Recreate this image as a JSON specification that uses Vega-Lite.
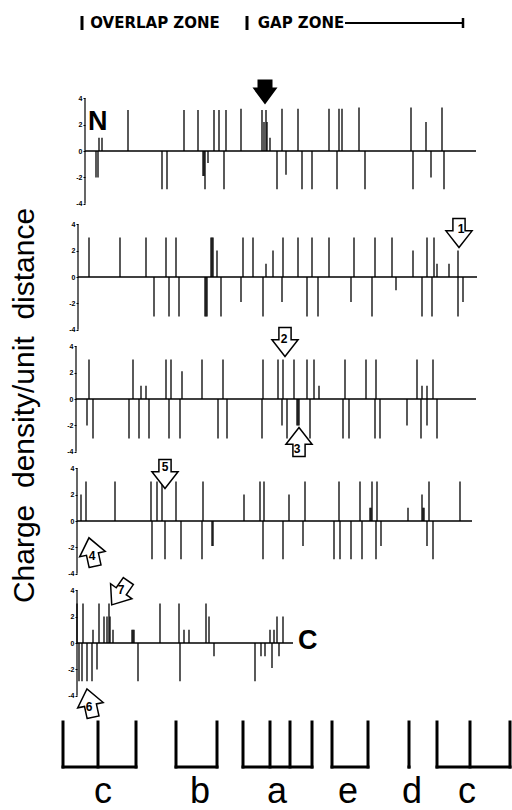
{
"$schema":"https://vega.github.io/schema/vega-lite/v6.json",
"padding":0,
"spacing":0,
"bounds":"flush",
"background":"white",
"config":{"view":{"stroke":null},"mark":{"color":"black"},"axisY":{"tickCount":5,"labelOverlap":false,"domain":false,"grid":false,"tickSize":2,"tickColor":"black","labelFontSize":7,"labelFontWeight":"bold","labelColor":"black","labelFont":"Liberation Sans","labelPadding":1,"labelFlush":false}},
"resolve":{"scale":{"x":"independent","y":"independent"}},
"datasets":{
"spikes":[
{"panel":1,"x":5.5,"v":1.0},{"panel":1,"x":6.25,"v":1.0},{"panel":1,"x":12.75,"v":3.1},{"panel":1,"x":26.75,"v":3.1},{"panel":1,"x":30.25,"v":3.1},{"panel":1,"x":34.25,"v":3.1},{"panel":1,"x":35.5,"v":3.1},{"panel":1,"x":37.25,"v":3.1},{"panel":1,"x":41,"v":3.2},{"panel":1,"x":46.25,"v":3.1},{"panel":1,"x":47.25,"v":3.1},{"panel":1,"x":46.75,"v":2.2},{"panel":1,"x":47.5,"v":2.2},{"panel":1,"x":48.25,"v":1.0},{"panel":1,"x":51.25,"v":3.2},{"panel":1,"x":55.25,"v":3.2},{"panel":1,"x":63,"v":3.2},{"panel":1,"x":65.5,"v":3.2},{"panel":1,"x":66.25,"v":3.2},{"panel":1,"x":70.5,"v":3.3},{"panel":1,"x":83.5,"v":3.3},{"panel":1,"x":87.25,"v":2.2},{"panel":1,"x":91.25,"v":3.3},
{"panel":1,"x":4.75,"v":-2.0},{"panel":1,"x":5.25,"v":-2.0},{"panel":1,"x":21.25,"v":-2.9},{"panel":1,"x":22.5,"v":-2.9},{"panel":1,"x":31.5,"v":-1.9},{"panel":1,"x":31.75,"v":-1.9},{"panel":1,"x":32,"v":-2.9},{"panel":1,"x":32.75,"v":-0.9},{"panel":1,"x":36.75,"v":-2.9},{"panel":1,"x":50,"v":-2.9},{"panel":1,"x":52.25,"v":-1.8},{"panel":1,"x":56.25,"v":-2.9},{"panel":1,"x":58.75,"v":-2.9},{"panel":1,"x":65,"v":-2.9},{"panel":1,"x":72,"v":-2.9},{"panel":1,"x":84,"v":-2.9},{"panel":1,"x":88.5,"v":-2.0},{"panel":1,"x":91.75,"v":-2.9},
{"panel":2,"x":3,"v":3.0},{"panel":2,"x":10.75,"v":3.0},{"panel":2,"x":17.25,"v":3.0},{"panel":2,"x":22.25,"v":3.0},{"panel":2,"x":24.75,"v":3.0},{"panel":2,"x":33.5,"v":3.0},{"panel":2,"x":33.75,"v":3.0},{"panel":2,"x":34,"v":3.0},{"panel":2,"x":35,"v":2.0},{"panel":2,"x":41.5,"v":3.0},{"panel":2,"x":44,"v":3.0},{"panel":2,"x":47.25,"v":1.0},{"panel":2,"x":49,"v":2.0},{"panel":2,"x":51.5,"v":3.0},{"panel":2,"x":55.25,"v":3.0},{"panel":2,"x":58.75,"v":3.0},{"panel":2,"x":63,"v":3.0},{"panel":2,"x":69.25,"v":3.0},{"panel":2,"x":74.5,"v":3.0},{"panel":2,"x":78.75,"v":3.0},{"panel":2,"x":84,"v":2.0},{"panel":2,"x":87.5,"v":3.0},{"panel":2,"x":89.25,"v":3.0},{"panel":2,"x":90,"v":1.0},{"panel":2,"x":93,"v":1.0},{"panel":2,"x":95.25,"v":2.0},
{"panel":2,"x":19.25,"v":-3.0},{"panel":2,"x":23,"v":-3.0},{"panel":2,"x":25.5,"v":-3.0},{"panel":2,"x":32,"v":-3.0},{"panel":2,"x":32.25,"v":-3.0},{"panel":2,"x":32.5,"v":-3.0},{"panel":2,"x":36,"v":-3.0},{"panel":2,"x":41,"v":-1.9},{"panel":2,"x":46.5,"v":-3.0},{"panel":2,"x":51.25,"v":-1.9},{"panel":2,"x":57.5,"v":-3.0},{"panel":2,"x":60.25,"v":-3.0},{"panel":2,"x":68.5,"v":-1.9},{"panel":2,"x":73.75,"v":-3.0},{"panel":2,"x":79.75,"v":-1.0},{"panel":2,"x":86.25,"v":-3.0},{"panel":2,"x":88.75,"v":-3.0},{"panel":2,"x":95.25,"v":-3.0},{"panel":2,"x":96.5,"v":-1.9},
{"panel":3,"x":3,"v":3.0},{"panel":3,"x":14,"v":3.0},{"panel":3,"x":16,"v":1.0},{"panel":3,"x":17.25,"v":1.0},{"panel":3,"x":22.25,"v":3.0},{"panel":3,"x":23.5,"v":3.0},{"panel":3,"x":26.25,"v":2.1},{"panel":3,"x":31.25,"v":3.0},{"panel":3,"x":36.5,"v":3.0},{"panel":3,"x":46.5,"v":3.0},{"panel":3,"x":50.25,"v":3.0},{"panel":3,"x":51.5,"v":3.0},{"panel":3,"x":54.25,"v":3.0},{"panel":3,"x":57.5,"v":3.0},{"panel":3,"x":59.25,"v":3.0},{"panel":3,"x":60.5,"v":1.0},{"panel":3,"x":67,"v":3.0},{"panel":3,"x":72.25,"v":3.0},{"panel":3,"x":74.75,"v":3.0},{"panel":3,"x":85,"v":3.0},{"panel":3,"x":86.25,"v":1.0},{"panel":3,"x":87.5,"v":1.0},{"panel":3,"x":89,"v":3.0},
{"panel":3,"x":2.5,"v":-2.0},{"panel":3,"x":4,"v":-3.0},{"panel":3,"x":13,"v":-3.0},{"panel":3,"x":15.5,"v":-3.0},{"panel":3,"x":18,"v":-3.0},{"panel":3,"x":23,"v":-3.0},{"panel":3,"x":25.75,"v":-3.0},{"panel":3,"x":35.25,"v":-3.0},{"panel":3,"x":37.5,"v":-3.0},{"panel":3,"x":46.25,"v":-3.0},{"panel":3,"x":51.25,"v":-2.0},{"panel":3,"x":52.5,"v":-3.0},{"panel":3,"x":55,"v":-2.0},{"panel":3,"x":55.25,"v":-2.0},{"panel":3,"x":55.5,"v":-2.0},{"panel":3,"x":58.25,"v":-3.0},{"panel":3,"x":66.5,"v":-3.0},{"panel":3,"x":68,"v":-3.0},{"panel":3,"x":74.5,"v":-3.0},{"panel":3,"x":75.75,"v":-3.0},{"panel":3,"x":82.5,"v":-2.0},{"panel":3,"x":86,"v":-3.0},{"panel":3,"x":87.5,"v":-2.0},{"panel":3,"x":90,"v":-3.0},
{"panel":4,"x":1,"v":2.0},{"panel":4,"x":2.25,"v":3.0},{"panel":4,"x":9.5,"v":3.0},{"panel":4,"x":18.5,"v":3.0},{"panel":4,"x":20,"v":3.0},{"panel":4,"x":21.25,"v":3.0},{"panel":4,"x":24.75,"v":3.0},{"panel":4,"x":31.5,"v":3.0},{"panel":4,"x":41.75,"v":2.0},{"panel":4,"x":45.75,"v":3.0},{"panel":4,"x":46.75,"v":3.0},{"panel":4,"x":53,"v":2.0},{"panel":4,"x":57,"v":3.0},{"panel":4,"x":65.5,"v":3.0},{"panel":4,"x":70.75,"v":3.0},{"panel":4,"x":73.25,"v":1.0},{"panel":4,"x":73.5,"v":1.0},{"panel":4,"x":73.75,"v":3.0},{"panel":4,"x":75,"v":3.0},{"panel":4,"x":82.75,"v":1.0},{"panel":4,"x":86.25,"v":2.0},{"panel":4,"x":86.5,"v":1.0},{"panel":4,"x":86.75,"v":1.0},{"panel":4,"x":88,"v":3.0},{"panel":4,"x":95.75,"v":3.0},
{"panel":4,"x":18.75,"v":-2.9},{"panel":4,"x":22,"v":-2.9},{"panel":4,"x":26,"v":-2.9},{"panel":4,"x":31.25,"v":-2.9},{"panel":4,"x":33.75,"v":-1.9},{"panel":4,"x":34,"v":-1.9},{"panel":4,"x":46.5,"v":-2.9},{"panel":4,"x":51.5,"v":-2.9},{"panel":4,"x":56.5,"v":-1.9},{"panel":4,"x":64.25,"v":-2.9},{"panel":4,"x":65.75,"v":-2.9},{"panel":4,"x":68.5,"v":-2.9},{"panel":4,"x":71.25,"v":-2.9},{"panel":4,"x":74.75,"v":-2.9},{"panel":4,"x":76,"v":-1.9},{"panel":4,"x":87.5,"v":-1.9},{"panel":4,"x":89,"v":-2.9},
{"panel":5,"x":0,"v":3.0},{"panel":5,"x":1.5,"v":3.0},{"panel":5,"x":4,"v":1.0},{"panel":5,"x":5.5,"v":3.0},{"panel":5,"x":6.75,"v":2.0},{"panel":5,"x":7.5,"v":2.0},{"panel":5,"x":8,"v":3.0},{"panel":5,"x":8.25,"v":2.0},{"panel":5,"x":9,"v":1.0},{"panel":5,"x":13.75,"v":1.0},{"panel":5,"x":14,"v":1.0},{"panel":5,"x":14.25,"v":1.0},{"panel":5,"x":20.75,"v":3.0},{"panel":5,"x":25.5,"v":3.0},{"panel":5,"x":26.75,"v":1.0},{"panel":5,"x":28,"v":1.0},{"panel":5,"x":32.25,"v":3.0},{"panel":5,"x":33,"v":2.0},{"panel":5,"x":48.25,"v":1.0},{"panel":5,"x":49.25,"v":1.0},{"panel":5,"x":50,"v":2.0},{"panel":5,"x":51.5,"v":2.0},
{"panel":5,"x":0.5,"v":-2.9},{"panel":5,"x":1.25,"v":-2.9},{"panel":5,"x":2.5,"v":-2.9},{"panel":5,"x":3.75,"v":-2.9},{"panel":5,"x":5,"v":-2.0},{"panel":5,"x":15.25,"v":-2.9},{"panel":5,"x":25.75,"v":-2.9},{"panel":5,"x":34.25,"v":-1.0},{"panel":5,"x":44.5,"v":-2.9},{"panel":5,"x":46,"v":-1.0},{"panel":5,"x":47,"v":-1.0},{"panel":5,"x":48.75,"v":-1.9},{"panel":5,"x":50.5,"v":-1.0}
],
"baselines":[
{"panel":1,"start":2,"end":99.75,"spine":2},
{"panel":2,"start":0.25,"end":100,"spine":0.25},
{"panel":3,"start":-0.25,"end":99.75,"spine":-0.25},
{"panel":4,"start":0,"end":98.75,"spine":0},
{"panel":5,"start":0,"end":54,"spine":0}
],
"labels":[
{"panel":1,"x":2.75,"v":2.2,"label":"N"},
{"panel":5,"x":55.25,"v":0.15,"label":"C"}
],
"pointer":[{"panel":1,"x":47,"v":4.47}],
"arrows":[
{"panel":2,"x":95.5,"v":3.33,"dir":"down","num":"1","tx":96,"tv":3.64},
{"panel":3,"x":52,"v":4.32,"dir":"down","num":"2","tx":51.75,"tv":4.55},
{"panel":3,"x":55.5,"v":-3.26,"dir":"up","num":"3","tx":55,"tv":-3.79},
{"panel":4,"x":3.75,"v":-2.35,"dir":"up-left","num":"4","tx":3.75,"tv":-2.65},
{"panel":4,"x":22,"v":3.56,"dir":"down","num":"5","tx":22,"tv":4.09},
{"panel":5,"x":3.25,"v":-4.55,"dir":"up-left","num":"6","tx":3,"tv":-4.85},
{"panel":5,"x":10.75,"v":3.79,"dir":"down-left","num":"7","tx":11,"tv":4.0}
],
"zones":[
{"zone":"OVERLAP ZONE","start":1.25,"end":42.5,"mid":19.5},
{"zone":"GAP ZONE","start":42.5,"end":96.5,"mid":56,"line":67}
],
"bands":[
{"label":"c","left":-3.5,"right":14.75,"mid":6.5},
{"label":"b","left":24.75,"right":35,"mid":30.75},
{"label":"a","left":41.5,"right":58.75,"mid":50},
{"label":"e","left":63.75,"right":72.75,"mid":67.75},
{"label":"d","left":83,"right":83,"mid":83.75},
{"label":"c","left":90,"right":108.25,"mid":97.5}
],
"posts":[
{"label":"c","x":-3.5},{"label":"c","x":5.25},{"label":"c","x":14.75},
{"label":"b","x":24.75},{"label":"b","x":35},
{"label":"a","x":41.5},{"label":"a","x":48.25},{"label":"a","x":53.25},{"label":"a","x":58.75},
{"label":"e","x":63.75},{"label":"e","x":72.75},
{"label":"d","x":83},
{"label":"c","x":90},{"label":"c","x":98.25},{"label":"c","x":108.25}
]
},
"vconcat":[
{
"width":512,"height":90,
"layer":[
{"data":{"name":"zones"},"mark":{"type":"text","font":"DejaVu Sans","fontWeight":"bold","fontSize":15,"align":"center","baseline":"alphabetic","color":"black"},
"encoding":{"x":{"field":"mid","type":"quantitative","scale":{"domain":[-19.25,108.75],"nice":false,"zero":false},"axis":null},"y":{"datum":62,"scale":{"domain":[0,90],"nice":false,"zero":false},"axis":null},"text":{"field":"zone"}}},
{"data":{"name":"zones"},"mark":{"type":"rule","strokeWidth":3,"color":"black"},
"encoding":{"x":{"field":"start","type":"quantitative","scale":{"domain":[-19.25,108.75],"nice":false,"zero":false},"axis":null},"y":{"datum":60,"scale":{"domain":[0,90],"nice":false,"zero":false},"axis":null},"y2":{"datum":74}}},
{"data":{"name":"zones"},"transform":[{"filter":"datum.line != null"}],"mark":{"type":"rule","strokeWidth":2,"color":"black"},
"encoding":{"x":{"field":"line","type":"quantitative","scale":{"domain":[-19.25,108.75],"nice":false,"zero":false},"axis":null},"x2":{"field":"end"},"y":{"datum":67,"scale":{"domain":[0,90],"nice":false,"zero":false},"axis":null}}},
{"data":{"name":"zones"},"transform":[{"filter":"datum.line != null"}],"mark":{"type":"rule","strokeWidth":2.5,"color":"black"},
"encoding":{"x":{"field":"end","type":"quantitative","scale":{"domain":[-19.25,108.75],"nice":false,"zero":false},"axis":null},"y":{"datum":62,"scale":{"domain":[0,90],"nice":false,"zero":false},"axis":null},"y2":{"datum":72}}}
]
},
{
"width":512,"height":126,
"layer":[
{"data":{"name":"spikes"},"transform":[{"filter":"datum.panel == 1"}],"mark":{"type":"rule","strokeWidth":1.3,"color":"black"},"encoding":{"x":{"field":"x","type":"quantitative","scale":{"domain":[-19.25,108.75],"nice":false,"zero":false},"axis":null},"y":{"field":"v","type":"quantitative","scale":{"domain":[-4.924,4.621],"nice":false,"zero":false},"axis":{"offset":-85,"values":[-4,-2,0,2,4],"labelExpr":"'' + datum.value","title":null}},"y2":{"datum":0}}},
{"data":{"name":"baselines"},"transform":[{"filter":"datum.panel == 1"}],"mark":{"type":"rule","strokeWidth":1.5,"color":"black"},"encoding":{"x":{"field":"start","type":"quantitative","scale":{"domain":[-19.25,108.75],"nice":false,"zero":false}},"x2":{"field":"end"},"y":{"datum":0,"scale":{"domain":[-4.924,4.621],"nice":false,"zero":false}}}},
{"data":{"name":"baselines"},"transform":[{"filter":"datum.panel == 1"}],"mark":{"type":"rule","strokeWidth":1.2,"color":"black"},"encoding":{"x":{"field":"spine","type":"quantitative","scale":{"domain":[-19.25,108.75],"nice":false,"zero":false}},"y":{"datum":-4,"scale":{"domain":[-4.924,4.621],"nice":false,"zero":false}},"y2":{"datum":4}}},
{"data":{"name":"labels"},"transform":[{"filter":"datum.panel == 1"}],"mark":{"type":"text","font":"Liberation Sans","fontWeight":"bold","fontSize":27,"align":"left","baseline":"middle","color":"black"},"encoding":{"x":{"field":"x","type":"quantitative","scale":{"domain":[-19.25,108.75],"nice":false,"zero":false}},"y":{"field":"v","type":"quantitative","scale":{"domain":[-4.924,4.621],"nice":false,"zero":false}},"text":{"field":"label"}}},
{"data":{"name":"pointer"},"mark":{"type":"point","filled":true,"color":"black","opacity":1,"size":625,"shape":"M-0.6,-1L0.6,-1L0.6,-0.35L1,-0.35L0,1L-1,-0.35L-0.6,-0.35Z"},"encoding":{"x":{"field":"x","type":"quantitative","scale":{"domain":[-19.25,108.75],"nice":false,"zero":false}},"y":{"field":"v","type":"quantitative","scale":{"domain":[-4.924,4.621],"nice":false,"zero":false}}}}
]
},
{
"width":512,"height":122,
"layer":[
{"data":{"name":"spikes"},"transform":[{"filter":"datum.panel == 2"}],"mark":{"type":"rule","strokeWidth":1.3,"color":"black"},"encoding":{"x":{"field":"x","type":"quantitative","scale":{"domain":[-19.25,108.75],"nice":false,"zero":false},"axis":null},"y":{"field":"v","type":"quantitative","scale":{"domain":[-4.621,4.621],"nice":false,"zero":false},"axis":{"offset":-78,"values":[-4,-2,0,2,4],"labelExpr":"'' + datum.value","title":null}},"y2":{"datum":0}}},
{"data":{"name":"baselines"},"transform":[{"filter":"datum.panel == 2"}],"mark":{"type":"rule","strokeWidth":1.5,"color":"black"},"encoding":{"x":{"field":"start","type":"quantitative","scale":{"domain":[-19.25,108.75],"nice":false,"zero":false}},"x2":{"field":"end"},"y":{"datum":0,"scale":{"domain":[-4.621,4.621],"nice":false,"zero":false}}}},
{"data":{"name":"baselines"},"transform":[{"filter":"datum.panel == 2"}],"mark":{"type":"rule","strokeWidth":1.2,"color":"black"},"encoding":{"x":{"field":"spine","type":"quantitative","scale":{"domain":[-19.25,108.75],"nice":false,"zero":false}},"y":{"datum":-4,"scale":{"domain":[-4.621,4.621],"nice":false,"zero":false}},"y2":{"datum":4}}},
{"data":{"name":"arrows"},"transform":[{"filter":"datum.panel == 2"}],"mark":{"type":"point","filled":true,"fill":"white","stroke":"black","strokeWidth":1.5,"opacity":1,"size":841},"encoding":{"x":{"field":"x","type":"quantitative","scale":{"domain":[-19.25,108.75],"nice":false,"zero":false}},"y":{"field":"v","type":"quantitative","scale":{"domain":[-4.621,4.621],"nice":false,"zero":false}},"shape":{"field":"dir","type":"nominal","legend":null,"scale":{"domain":["down","up","up-left","down-left"],"range":["M-0.42,-1L0.42,-1L0.42,-0.15L0.9,-0.15L0,1L-0.9,-0.15L-0.42,-0.15Z","M-0.42,1L0.42,1L0.42,0.15L0.9,0.15L0,-1L-0.9,0.15L-0.42,0.15Z","M-0.2,1.06L0.62,0.89L0.44,0.06L0.91,-0.04L-0.21,-0.98L-0.85,0.33L-0.38,0.23Z","M0.23,-1.06L0.92,-0.58L0.43,0.12L0.82,0.39L-0.57,0.82L-0.65,-0.64L-0.26,-0.36Z"]}}}},
{"data":{"name":"arrows"},"transform":[{"filter":"datum.panel == 2"}],"mark":{"type":"text","font":"Liberation Sans","fontWeight":"bold","fontSize":12,"align":"center","baseline":"middle","color":"black"},"encoding":{"x":{"field":"tx","type":"quantitative","scale":{"domain":[-19.25,108.75],"nice":false,"zero":false}},"y":{"field":"tv","type":"quantitative","scale":{"domain":[-4.621,4.621],"nice":false,"zero":false}},"text":{"field":"num"}}}
]
},
{
"width":512,"height":122,
"layer":[
{"data":{"name":"spikes"},"transform":[{"filter":"datum.panel == 3"}],"mark":{"type":"rule","strokeWidth":1.3,"color":"black"},"encoding":{"x":{"field":"x","type":"quantitative","scale":{"domain":[-19.25,108.75],"nice":false,"zero":false},"axis":null},"y":{"field":"v","type":"quantitative","scale":{"domain":[-4.621,4.621],"nice":false,"zero":false},"axis":{"offset":-76,"values":[-4,-2,0,2,4],"labelExpr":"'' + datum.value","title":"Charge\u00a0\u00a0density/unit\u00a0\u00a0distance","titleFont":"Liberation Sans","titleFontSize":30,"titleFontWeight":"normal","titleColor":"black","titleX":-43,"titleY":67,"titleAngle":270,"titleAlign":"center","titleBaseline":"alphabetic"}},"y2":{"datum":0}}},
{"data":{"name":"baselines"},"transform":[{"filter":"datum.panel == 3"}],"mark":{"type":"rule","strokeWidth":1.5,"color":"black"},"encoding":{"x":{"field":"start","type":"quantitative","scale":{"domain":[-19.25,108.75],"nice":false,"zero":false}},"x2":{"field":"end"},"y":{"datum":0,"scale":{"domain":[-4.621,4.621],"nice":false,"zero":false}}}},
{"data":{"name":"baselines"},"transform":[{"filter":"datum.panel == 3"}],"mark":{"type":"rule","strokeWidth":1.2,"color":"black"},"encoding":{"x":{"field":"spine","type":"quantitative","scale":{"domain":[-19.25,108.75],"nice":false,"zero":false}},"y":{"datum":-4,"scale":{"domain":[-4.621,4.621],"nice":false,"zero":false}},"y2":{"datum":4}}},
{"data":{"name":"arrows"},"transform":[{"filter":"datum.panel == 3"}],"mark":{"type":"point","filled":true,"fill":"white","stroke":"black","strokeWidth":1.5,"opacity":1,"size":841},"encoding":{"x":{"field":"x","type":"quantitative","scale":{"domain":[-19.25,108.75],"nice":false,"zero":false}},"y":{"field":"v","type":"quantitative","scale":{"domain":[-4.621,4.621],"nice":false,"zero":false}},"shape":{"field":"dir","type":"nominal","legend":null,"scale":{"domain":["down","up","up-left","down-left"],"range":["M-0.42,-1L0.42,-1L0.42,-0.15L0.9,-0.15L0,1L-0.9,-0.15L-0.42,-0.15Z","M-0.42,1L0.42,1L0.42,0.15L0.9,0.15L0,-1L-0.9,0.15L-0.42,0.15Z","M-0.2,1.06L0.62,0.89L0.44,0.06L0.91,-0.04L-0.21,-0.98L-0.85,0.33L-0.38,0.23Z","M0.23,-1.06L0.92,-0.58L0.43,0.12L0.82,0.39L-0.57,0.82L-0.65,-0.64L-0.26,-0.36Z"]}}}},
{"data":{"name":"arrows"},"transform":[{"filter":"datum.panel == 3"}],"mark":{"type":"text","font":"Liberation Sans","fontWeight":"bold","fontSize":12,"align":"center","baseline":"middle","color":"black"},"encoding":{"x":{"field":"tx","type":"quantitative","scale":{"domain":[-19.25,108.75],"nice":false,"zero":false}},"y":{"field":"tv","type":"quantitative","scale":{"domain":[-4.621,4.621],"nice":false,"zero":false}},"text":{"field":"num"}}}
]
},
{
"width":512,"height":122,
"layer":[
{"data":{"name":"spikes"},"transform":[{"filter":"datum.panel == 4"}],"mark":{"type":"rule","strokeWidth":1.3,"color":"black"},"encoding":{"x":{"field":"x","type":"quantitative","scale":{"domain":[-19.25,108.75],"nice":false,"zero":false},"axis":null},"y":{"field":"v","type":"quantitative","scale":{"domain":[-4.621,4.621],"nice":false,"zero":false},"axis":{"offset":-77,"values":[-4,-2,0,2,4],"labelExpr":"'' + datum.value","title":null}},"y2":{"datum":0}}},
{"data":{"name":"baselines"},"transform":[{"filter":"datum.panel == 4"}],"mark":{"type":"rule","strokeWidth":1.5,"color":"black"},"encoding":{"x":{"field":"start","type":"quantitative","scale":{"domain":[-19.25,108.75],"nice":false,"zero":false}},"x2":{"field":"end"},"y":{"datum":0,"scale":{"domain":[-4.621,4.621],"nice":false,"zero":false}}}},
{"data":{"name":"baselines"},"transform":[{"filter":"datum.panel == 4"}],"mark":{"type":"rule","strokeWidth":1.2,"color":"black"},"encoding":{"x":{"field":"spine","type":"quantitative","scale":{"domain":[-19.25,108.75],"nice":false,"zero":false}},"y":{"datum":-4,"scale":{"domain":[-4.621,4.621],"nice":false,"zero":false}},"y2":{"datum":4}}},
{"data":{"name":"arrows"},"transform":[{"filter":"datum.panel == 4"}],"mark":{"type":"point","filled":true,"fill":"white","stroke":"black","strokeWidth":1.5,"opacity":1,"size":841},"encoding":{"x":{"field":"x","type":"quantitative","scale":{"domain":[-19.25,108.75],"nice":false,"zero":false}},"y":{"field":"v","type":"quantitative","scale":{"domain":[-4.621,4.621],"nice":false,"zero":false}},"shape":{"field":"dir","type":"nominal","legend":null,"scale":{"domain":["down","up","up-left","down-left"],"range":["M-0.42,-1L0.42,-1L0.42,-0.15L0.9,-0.15L0,1L-0.9,-0.15L-0.42,-0.15Z","M-0.42,1L0.42,1L0.42,0.15L0.9,0.15L0,-1L-0.9,0.15L-0.42,0.15Z","M-0.2,1.06L0.62,0.89L0.44,0.06L0.91,-0.04L-0.21,-0.98L-0.85,0.33L-0.38,0.23Z","M0.23,-1.06L0.92,-0.58L0.43,0.12L0.82,0.39L-0.57,0.82L-0.65,-0.64L-0.26,-0.36Z"]}}}},
{"data":{"name":"arrows"},"transform":[{"filter":"datum.panel == 4"}],"mark":{"type":"text","font":"Liberation Sans","fontWeight":"bold","fontSize":12,"align":"center","baseline":"middle","color":"black"},"encoding":{"x":{"field":"tx","type":"quantitative","scale":{"domain":[-19.25,108.75],"nice":false,"zero":false}},"y":{"field":"tv","type":"quantitative","scale":{"domain":[-4.621,4.621],"nice":false,"zero":false}},"text":{"field":"num"}}}
]
},
{
"width":512,"height":122,
"layer":[
{"data":{"name":"spikes"},"transform":[{"filter":"datum.panel == 5"}],"mark":{"type":"rule","strokeWidth":1.3,"color":"black"},"encoding":{"x":{"field":"x","type":"quantitative","scale":{"domain":[-19.25,108.75],"nice":false,"zero":false},"axis":null},"y":{"field":"v","type":"quantitative","scale":{"domain":[-4.621,4.621],"nice":false,"zero":false},"axis":{"offset":-77,"values":[-4,-2,0,2,4],"labelExpr":"'' + datum.value","title":null}},"y2":{"datum":0}}},
{"data":{"name":"baselines"},"transform":[{"filter":"datum.panel == 5"}],"mark":{"type":"rule","strokeWidth":1.5,"color":"black"},"encoding":{"x":{"field":"start","type":"quantitative","scale":{"domain":[-19.25,108.75],"nice":false,"zero":false}},"x2":{"field":"end"},"y":{"datum":0,"scale":{"domain":[-4.621,4.621],"nice":false,"zero":false}}}},
{"data":{"name":"baselines"},"transform":[{"filter":"datum.panel == 5"}],"mark":{"type":"rule","strokeWidth":1.2,"color":"black"},"encoding":{"x":{"field":"spine","type":"quantitative","scale":{"domain":[-19.25,108.75],"nice":false,"zero":false}},"y":{"datum":-4,"scale":{"domain":[-4.621,4.621],"nice":false,"zero":false}},"y2":{"datum":4}}},
{"data":{"name":"labels"},"transform":[{"filter":"datum.panel == 5"}],"mark":{"type":"text","font":"Liberation Sans","fontWeight":"bold","fontSize":27,"align":"left","baseline":"middle","color":"black"},"encoding":{"x":{"field":"x","type":"quantitative","scale":{"domain":[-19.25,108.75],"nice":false,"zero":false}},"y":{"field":"v","type":"quantitative","scale":{"domain":[-4.621,4.621],"nice":false,"zero":false}},"text":{"field":"label"}}},
{"data":{"name":"arrows"},"transform":[{"filter":"datum.panel == 5"}],"mark":{"type":"point","filled":true,"fill":"white","stroke":"black","strokeWidth":1.5,"opacity":1,"size":841},"encoding":{"x":{"field":"x","type":"quantitative","scale":{"domain":[-19.25,108.75],"nice":false,"zero":false}},"y":{"field":"v","type":"quantitative","scale":{"domain":[-4.621,4.621],"nice":false,"zero":false}},"shape":{"field":"dir","type":"nominal","legend":null,"scale":{"domain":["down","up","up-left","down-left"],"range":["M-0.42,-1L0.42,-1L0.42,-0.15L0.9,-0.15L0,1L-0.9,-0.15L-0.42,-0.15Z","M-0.42,1L0.42,1L0.42,0.15L0.9,0.15L0,-1L-0.9,0.15L-0.42,0.15Z","M-0.2,1.06L0.62,0.89L0.44,0.06L0.91,-0.04L-0.21,-0.98L-0.85,0.33L-0.38,0.23Z","M0.23,-1.06L0.92,-0.58L0.43,0.12L0.82,0.39L-0.57,0.82L-0.65,-0.64L-0.26,-0.36Z"]}}}},
{"data":{"name":"arrows"},"transform":[{"filter":"datum.panel == 5"}],"mark":{"type":"text","font":"Liberation Sans","fontWeight":"bold","fontSize":12,"align":"center","baseline":"middle","color":"black"},"encoding":{"x":{"field":"tx","type":"quantitative","scale":{"domain":[-19.25,108.75],"nice":false,"zero":false}},"y":{"field":"tv","type":"quantitative","scale":{"domain":[-4.621,4.621],"nice":false,"zero":false}},"text":{"field":"num"}}}
]
},
{
"width":512,"height":106,
"layer":[
{"data":{"name":"posts"},"mark":{"type":"rule","strokeWidth":3,"strokeCap":"square","color":"black"},
"encoding":{"x":{"field":"x","type":"quantitative","scale":{"domain":[-19.25,108.75],"nice":false,"zero":false},"axis":null},"y":{"datum":43,"scale":{"domain":[0,106],"nice":false,"zero":false},"axis":null},"y2":{"datum":88}}},
{"data":{"name":"bands"},"mark":{"type":"rule","strokeWidth":3,"strokeCap":"square","color":"black"},
"encoding":{"x":{"field":"left","type":"quantitative","scale":{"domain":[-19.25,108.75],"nice":false,"zero":false},"axis":null},"x2":{"field":"right"},"y":{"datum":43,"scale":{"domain":[0,106],"nice":false,"zero":false},"axis":null}}},
{"data":{"name":"bands"},"mark":{"type":"text","font":"Liberation Sans","fontSize":36,"align":"center","baseline":"alphabetic","color":"black"},
"encoding":{"x":{"field":"mid","type":"quantitative","scale":{"domain":[-19.25,108.75],"nice":false,"zero":false},"axis":null},"y":{"datum":7,"scale":{"domain":[0,106],"nice":false,"zero":false},"axis":null},"text":{"field":"label"}}}
]
}
]
}
